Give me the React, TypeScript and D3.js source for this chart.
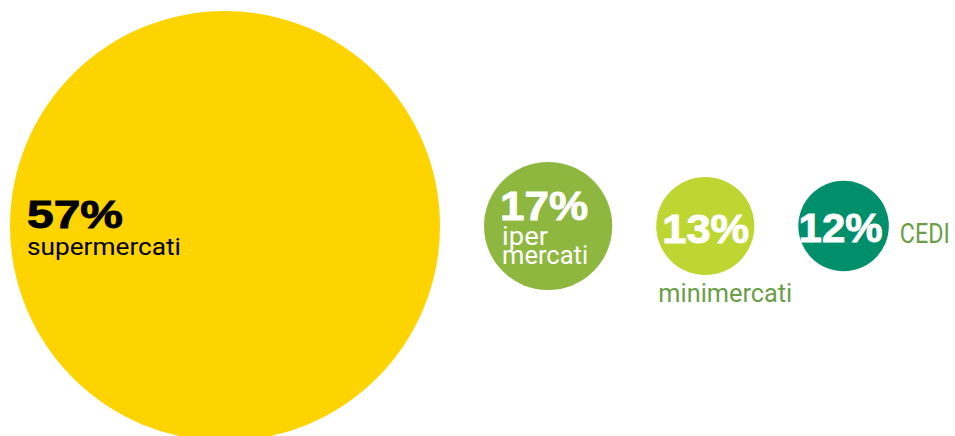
import React from "react";
import * as d3 from "d3";

const categories = ["supermercati", "iper mercati", "minimercati", "CEDI"];
const values = [57, 17, 13, 12];
const percentLabels = ["57%", "17%", "13%", "12%"];
const colors = ["#FDD400", "#8EB73F", "#BDD632", "#008F6B"];

const W = 955;
const H = 436;

export default function App() {
  const r = d3.scaleLinear().domain([0, 57]).range([0, 215]);
  const gap = 44;
  const cy = 226;
  let left = 10;
  const circles = values.map((v, i) => {
    const rad = r(v);
    const cx = left + rad;
    left = cx + rad + gap;
    return { cx, rad, v, i };
  });

  const condensed = "'Roboto', 'Liberation Sans', 'Noto Sans', sans-serif";
  const heavy = "'Liberation Sans', 'DejaVu Sans', sans-serif";
  const labelGreen = "#6A9E48";

  const [c0, c1, c2, c3] = circles;

  const heavyProps = (fill: string) => ({
    fontFamily: heavy,
    fontWeight: 900,
    fill,
    stroke: fill,
    strokeWidth: 0.9,
    lengthAdjust: "spacingAndGlyphs" as const,
  });

  return (
    <svg width={W} height={H} style={{ position: "absolute", left: 0, top: 0 }}>
      {circles.map((c) => (
        <circle key={c.i} cx={c.cx} cy={cy} r={c.rad} fill={colors[c.i]} />
      ))}
      {/* supermercati */}
      <text x={c0.cx - 198} y={228} fontSize={39} textLength={96} {...heavyProps("#000")}>{percentLabels[0]}</text>
      <text x={c0.cx - 198} y={255} fontFamily={condensed} fontSize={24}
        fill="#000" textLength={154} lengthAdjust="spacingAndGlyphs">{categories[0]}</text>

      {/* iper mercati */}
      <text x={c1.cx - 48} y={220} fontSize={40} textLength={88} {...heavyProps("#fff")}>{percentLabels[1]}</text>
      <text x={c1.cx - 46} y={245} fontFamily={condensed} fontSize={25}
        fill="#fff" textLength={46} lengthAdjust="spacingAndGlyphs">{categories[1].split(" ")[0]}</text>
      <text x={c1.cx - 46} y={264} fontFamily={condensed} fontSize={25}
        fill="#fff" textLength={86} lengthAdjust="spacingAndGlyphs">{categories[1].split(" ")[1]}</text>

      {/* minimercati */}
      <text x={c2.cx - 43} y={243} fontSize={41} textLength={87} {...heavyProps("#fff")}>{percentLabels[2]}</text>
      <text x={c2.cx - 47} y={302} fontFamily={condensed} fontSize={26}
        fill={labelGreen} textLength={134} lengthAdjust="spacingAndGlyphs">{categories[2]}</text>

      {/* CEDI */}
      <text x={c3.cx - 45} y={242} fontSize={40} textLength={84} {...heavyProps("#fff")}>{percentLabels[3]}</text>
      <text x={c3.cx + c3.rad + 11} y={243} fontFamily={condensed} fontSize={28}
        fill={labelGreen} textLength={50} lengthAdjust="spacingAndGlyphs">{categories[3]}</text>
    </svg>
  );
}
